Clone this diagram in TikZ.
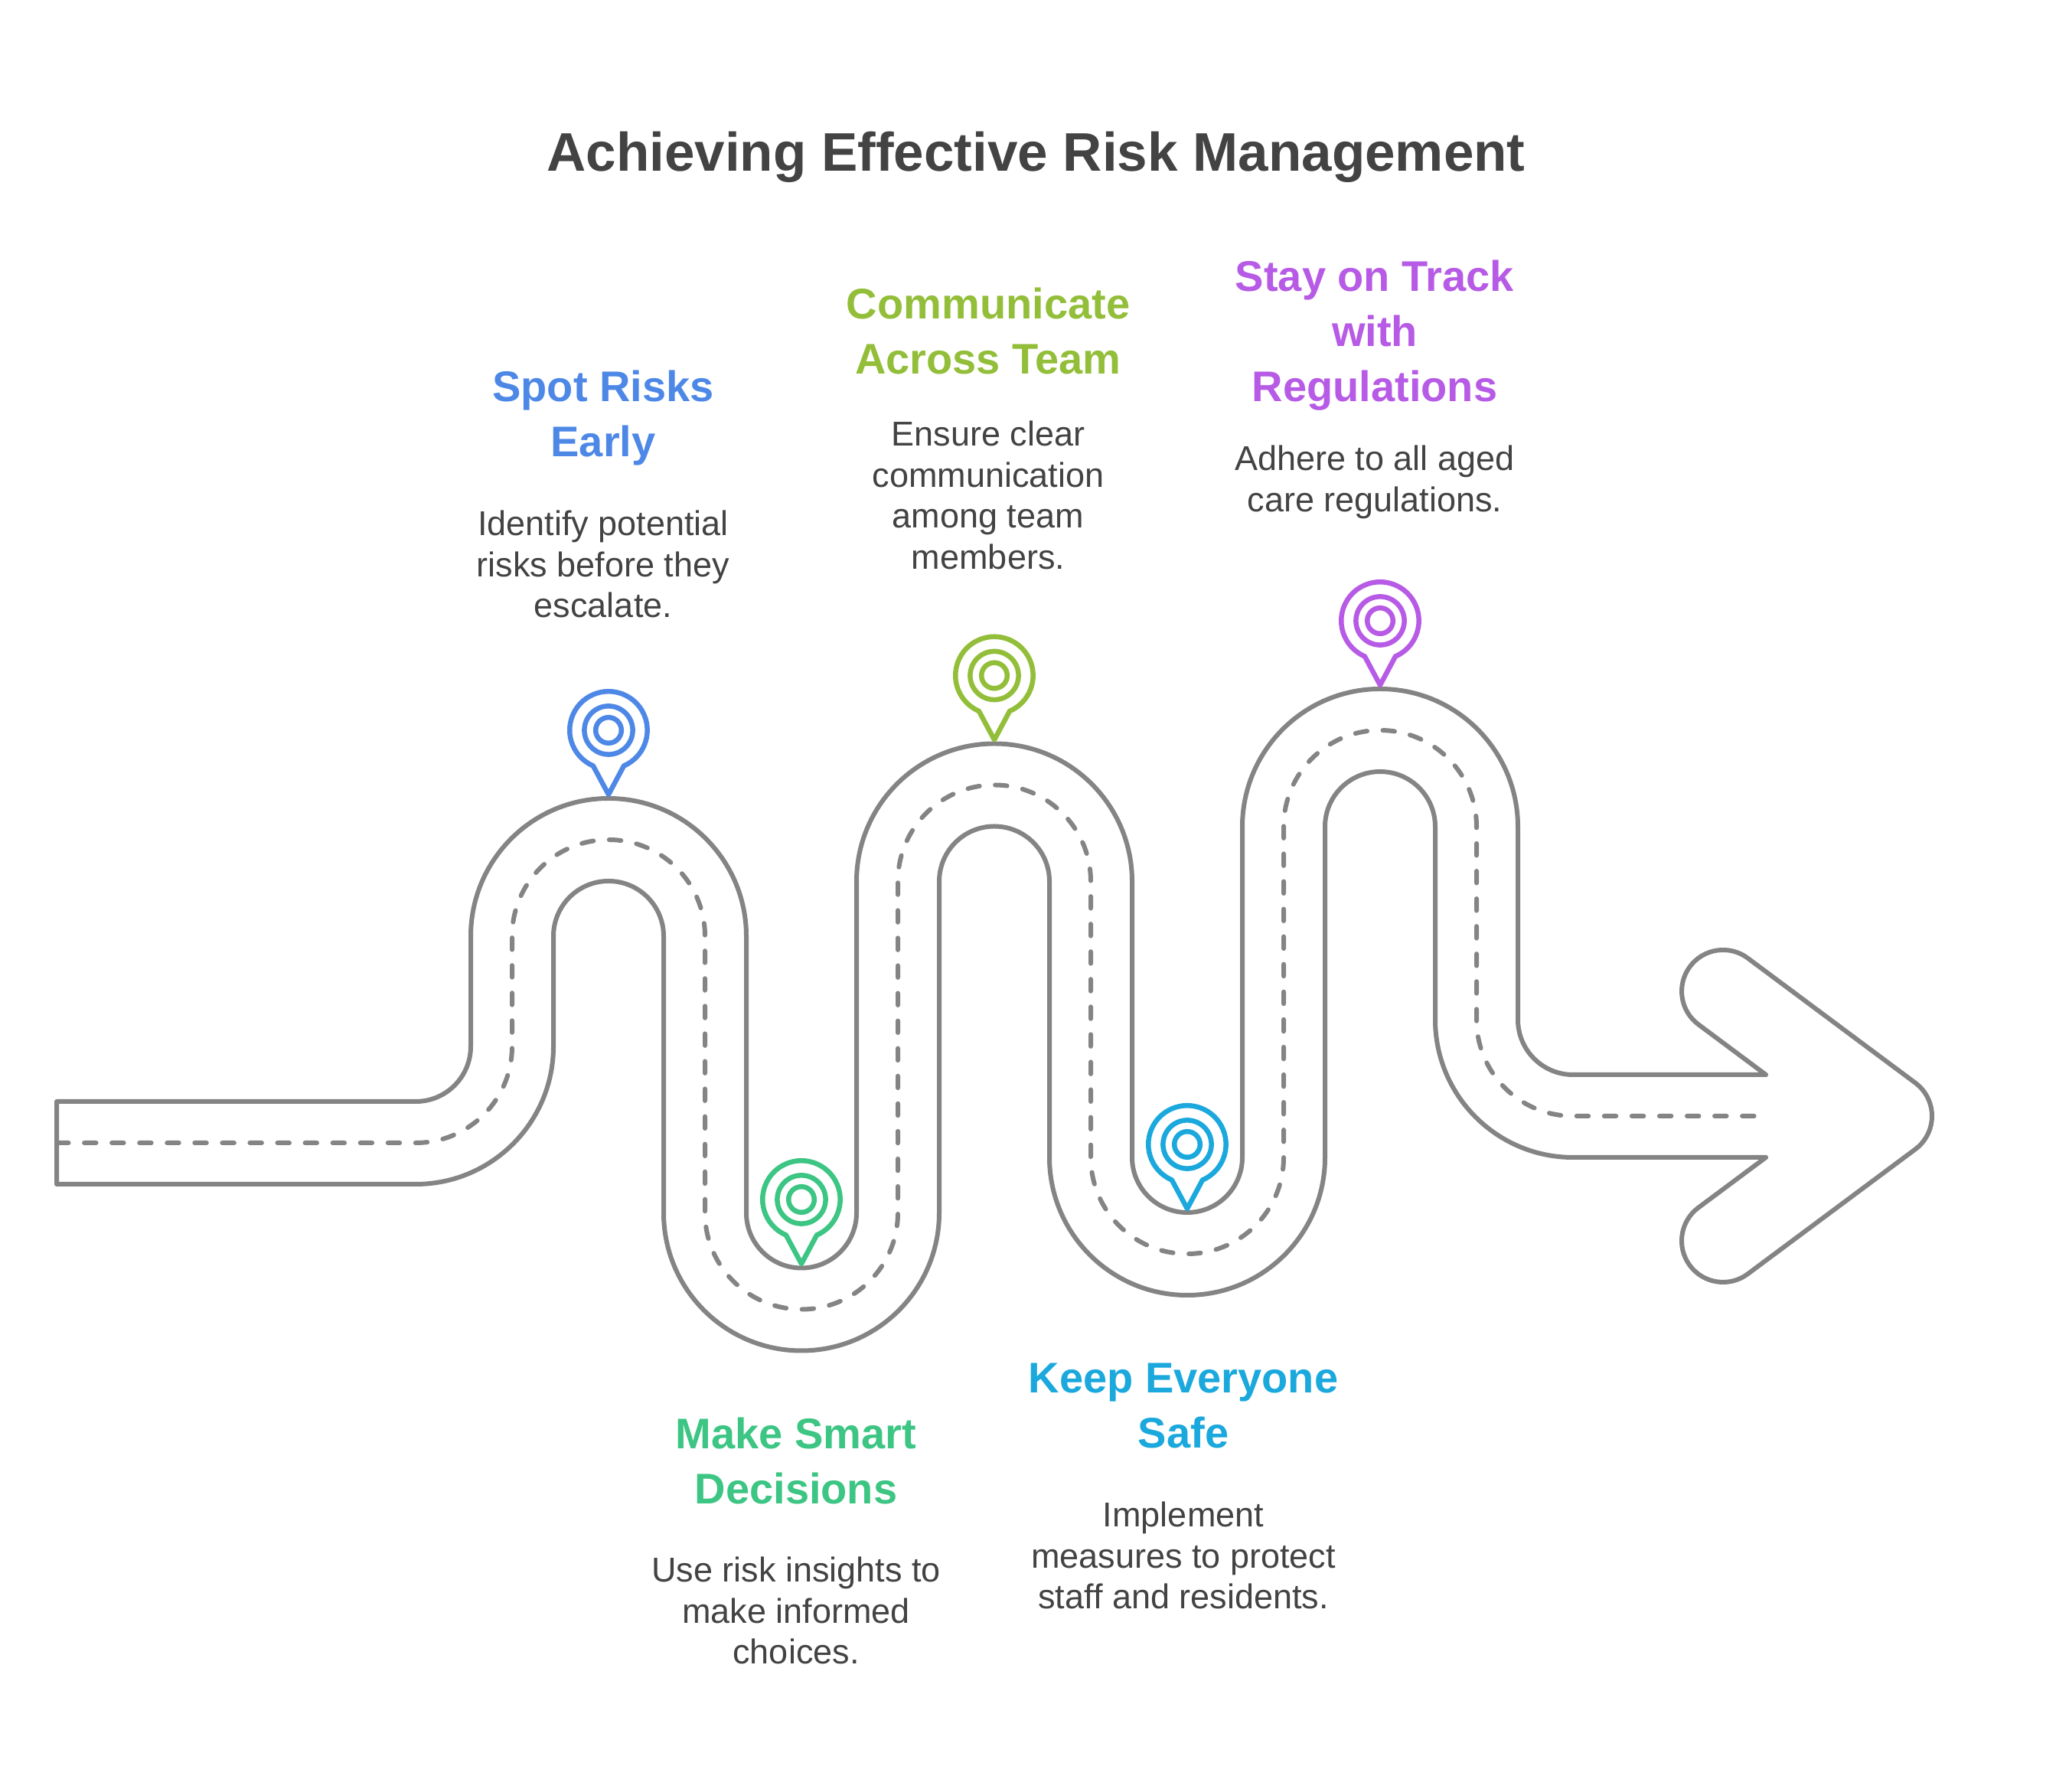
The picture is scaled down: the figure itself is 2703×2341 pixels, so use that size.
\documentclass[tikz,border=0pt]{standalone}
\usepackage{fontspec}
\setmainfont{Liberation Sans}
\definecolor{roadgray}{HTML}{848484}
\definecolor{inkgray}{HTML}{434343}
\definecolor{pinA}{HTML}{4E88E7}
\definecolor{pinB}{HTML}{3CC583}
\definecolor{pinC}{HTML}{93BE39}
\definecolor{pinD}{HTML}{1AA8DD}
\definecolor{pinE}{HTML}{B75BE6}
\tikzset{
  x=1pt,y=1pt,
  roadedge/.style={draw=roadgray,fill=white,line width=6pt,line join=round},
  roadmid/.style={draw=roadgray,line width=6pt,line cap=round,dash pattern=on 15.5pt off 20.56pt},
  titletext/.style={text=inkgray,font=\bfseries\fontsize{71}{84}\selectfont,align=center},
  headtext/.style={font=\bfseries\fontsize{56}{72}\selectfont,align=center,inner sep=0pt},
  bodytext/.style={text=inkgray,font=\fontsize{45}{53.7}\selectfont,align=center,inner sep=0pt},
  pics/pinmark/.style={code={
    \draw[line width=6.5pt,line join=round,draw=#1]
      (0,-84) -- (20,-46.5) arc[start angle=-66.7,end angle=246.7,radius=50.7] -- cycle;
    \draw[line width=6.5pt,draw=#1] (0,0) circle[radius=31.6];
    \draw[line width=6.5pt,draw=#1] (0,0) circle[radius=16.8];
  }}
}
\begin{document}
\begin{tikzpicture}
\useasboundingbox (0,0) rectangle (2703,2341);
\fill[white] (0,0) rectangle (2703,2341);

% road outline
\path[roadedge] (74,902) -- (543,902) arc[start angle=-90,end angle=0,radius=72]
 -- (615,1118) arc[start angle=180,end angle=0,radius=180]
 -- (975,756.5) arc[start angle=180,end angle=360,radius=72]
 -- (1119,1189.5) arc[start angle=180,end angle=0,radius=180]
 -- (1479,829) arc[start angle=180,end angle=360,radius=72]
 -- (1623,1261) arc[start angle=180,end angle=0,radius=180]
 -- (1983,1009) arc[start angle=180,end angle=270,radius=72]
 -- (2307,937) -- (2218.9,1002.6) arc[start angle=233.5,end angle=53.5,radius=54]
 -- (2502.1,926.4) arc[start angle=53.5,end angle=-53.5,radius=54]
 -- (2283.1,676.6) arc[start angle=-53.5,end angle=-233.5,radius=54]
 -- (2307,829) -- (2055,829) arc[start angle=270,end angle=180,radius=180]
 -- (1875,1261) arc[start angle=0,end angle=180,radius=72]
 -- (1731,829) arc[start angle=360,end angle=180,radius=180]
 -- (1371,1189.5) arc[start angle=0,end angle=180,radius=72]
 -- (1227,756.5) arc[start angle=360,end angle=180,radius=180]
 -- (867,1118) arc[start angle=0,end angle=180,radius=72]
 -- (723,974) arc[start angle=0,end angle=-90,radius=180]
 -- (74,794) -- cycle;

% centre line
\path[roadmid] (74,848) -- (543,848) arc[start angle=-90,end angle=0,radius=126]
 -- (669,1118) arc[start angle=180,end angle=0,radius=126]
 -- (921,756.5) arc[start angle=180,end angle=360,radius=126]
 -- (1173,1189.5) arc[start angle=180,end angle=0,radius=126]
 -- (1425,829) arc[start angle=180,end angle=360,radius=126]
 -- (1677,1261) arc[start angle=180,end angle=0,radius=126]
 -- (1929,1009) arc[start angle=180,end angle=270,radius=126]
 -- (2300,883);

% pins
\pic (pinone) at (795,1387) {pinmark=pinA};
\pic (pintwo) at (1047,774) {pinmark=pinB};
\pic (pinthree) at (1299,1458.5) {pinmark=pinC};
\pic (pinfour) at (1551,846) {pinmark=pinD};
\pic (pinfive) at (1803,1530) {pinmark=pinE};

% texts
\node[titletext] (title) at (1353.5,2136) {Achieving Effective Risk Management};

\node[headtext,text=pinA] (headone) at (788,1795) {Spot Risks\\Early};
\node[bodytext] (bodyone) at (788,1604) {Identify potential\\risks before they\\escalate.};

\node[headtext,text=pinB] (headtwo) at (1040,433) {Make Smart\\Decisions};
\node[bodytext] (bodytwo) at (1040,237) {Use risk insights to\\make informed\\choices.};

\node[headtext,text=pinC] (headthree) at (1291,1908) {Communicate\\Across Team};
\node[bodytext] (bodythree) at (1291,1694) {Ensure clear\\communication\\among team\\members.};

\node[headtext,text=pinD] (headfour) at (1546,504) {Keep Everyone\\Safe};
\node[bodytext] (bodyfour) at (1546,309) {Implement\\measures to protect\\staff and residents.};

\node[headtext,text=pinE] (headfive) at (1796,1903) {Stay on Track\\with\\Regulations};
\node[bodytext] (bodyfive) at (1796,1711) {Adhere to all aged\\care regulations.};
\end{tikzpicture}
\end{document}
